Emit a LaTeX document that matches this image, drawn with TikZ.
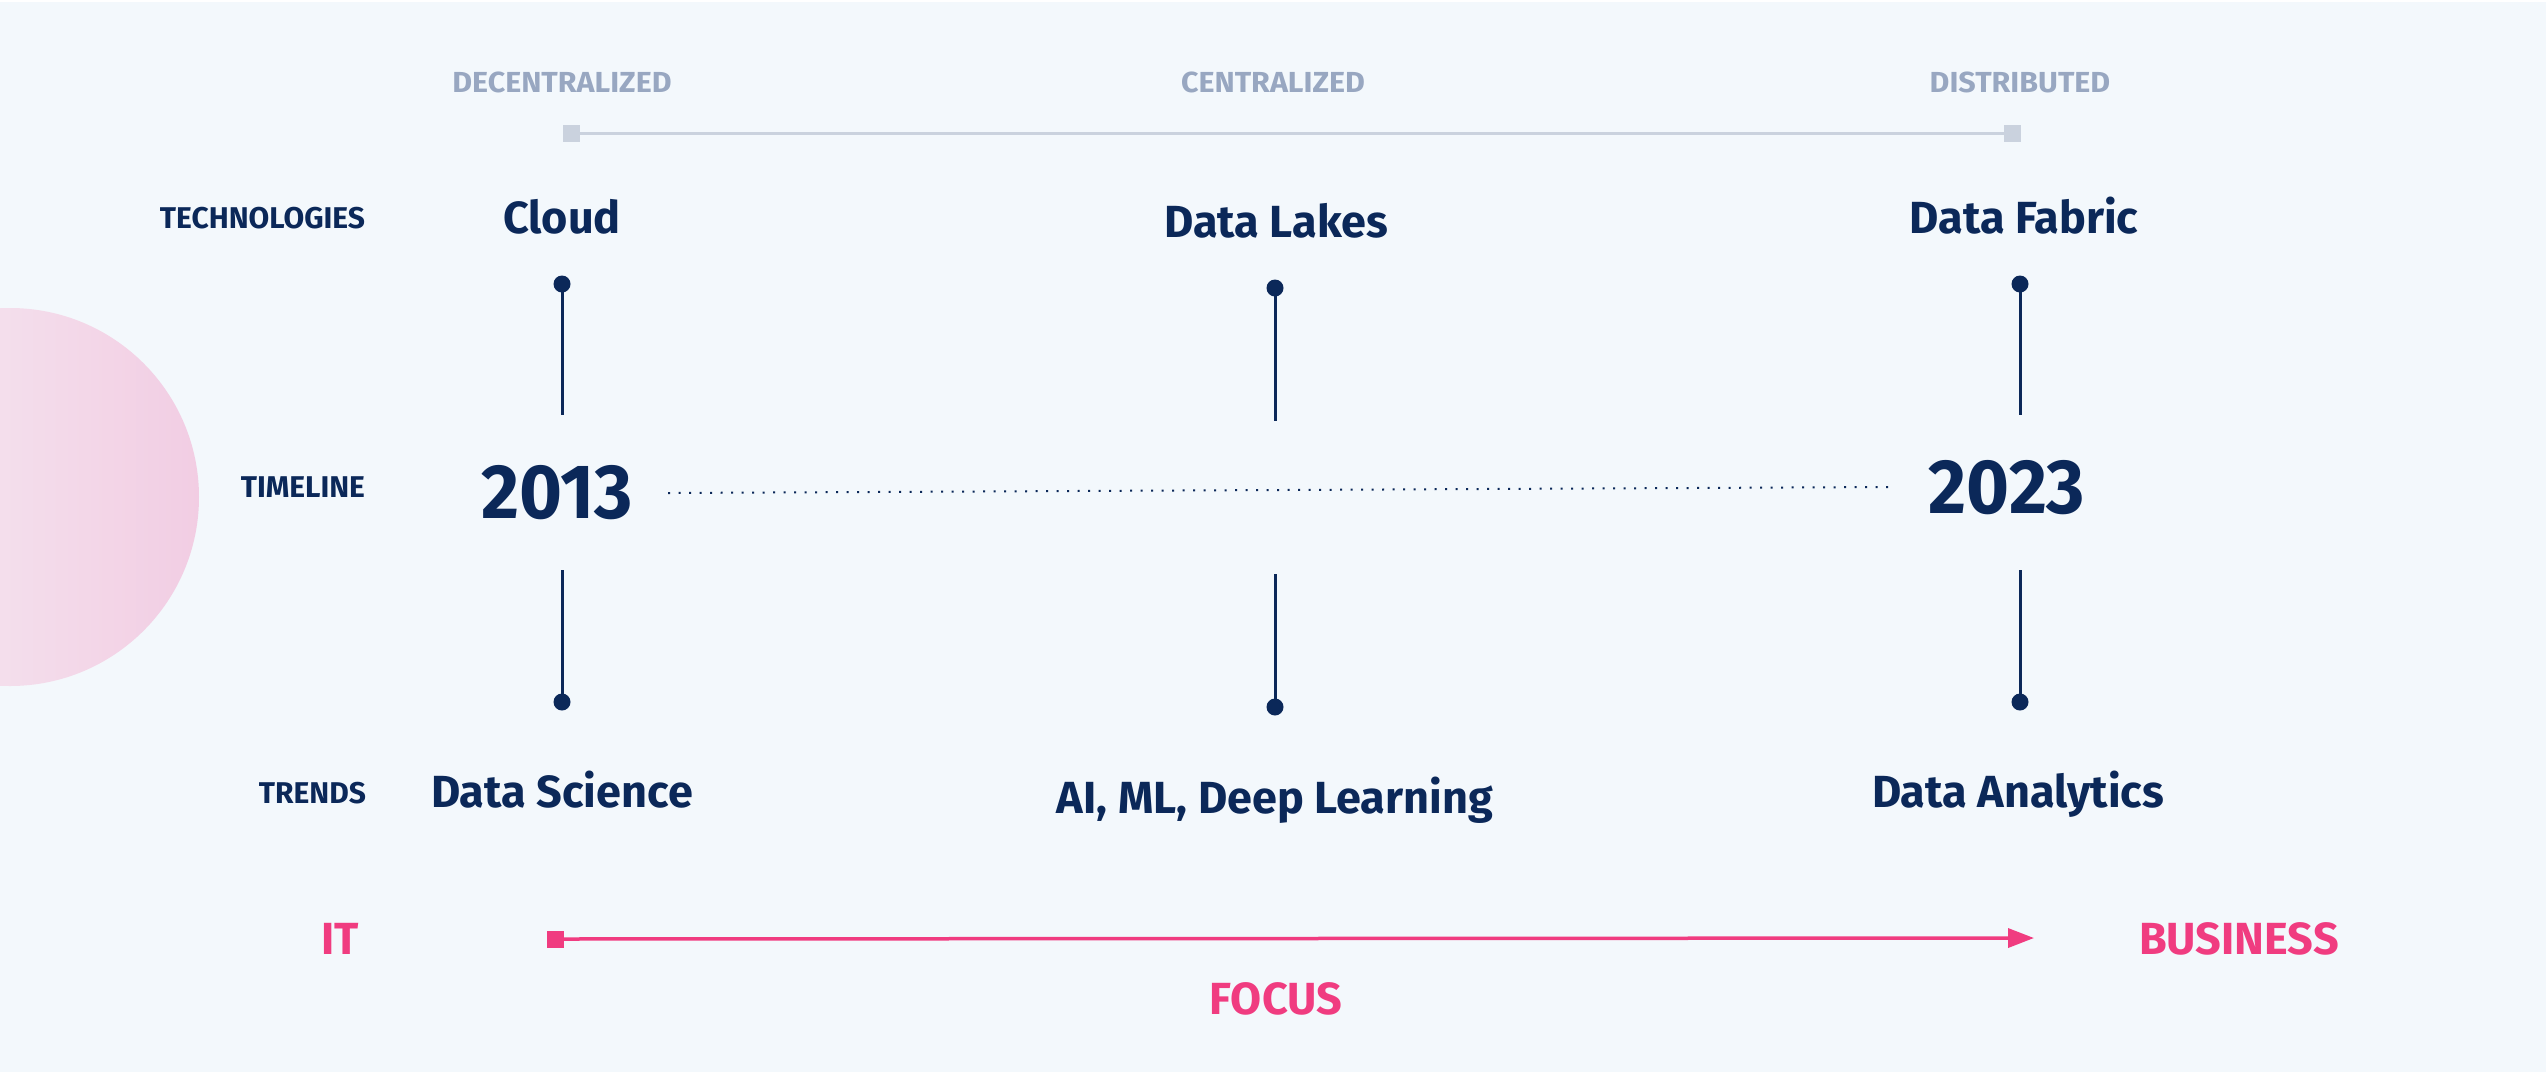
\documentclass[tikz,border=0pt]{standalone}
\usepackage{fontspec}
\setmainfont{Fira Sans}
\newfontfamily\yearfont{Fira Sans}[FakeStretch=0.955]
\newfontfamily\topfont{Fira Sans}[FakeStretch=1.05]
\usetikzlibrary{arrows.meta}
\definecolor{navy}{HTML}{0B2859}
\definecolor{bgc}{HTML}{F3F8FC}
\definecolor{graytxt}{HTML}{98A7C1}
\definecolor{grayln}{HTML}{CAD2DE}
\definecolor{pinkc}{HTML}{F03C80}
\definecolor{circL}{HTML}{F5EEF4}
\definecolor{circR}{HTML}{F2CDE3}
\begin{document}
\begin{tikzpicture}[x=1pt,y=-1pt,
  every node/.style={inner sep=0pt, outer sep=0pt},
  rowlabel/.style={anchor=base east, font=\bfseries\fontsize{30}{30}\selectfont, text=navy},
  toplabel/.style={anchor=base, font=\topfont\bfseries\fontsize{29}{29}\selectfont, text=graytxt},
  item/.style={anchor=base, font=\bfseries\fontsize{45}{45}\selectfont, text=navy},
  yearlabel/.style={anchor=base, font=\yearfont\bfseries\fontsize{77}{77}\selectfont, text=navy},
  pinklabel/.style={font=\bfseries\fontsize{45}{45}\selectfont, text=pinkc},
  pindot/.style={circle, fill=navy, minimum size=17pt},
  stem/.style={draw=navy, line width=3pt},
  graysq/.style={rectangle, fill=grayln, minimum size=17pt},
  pinksq/.style={rectangle, fill=pinkc, minimum size=17pt},
]
% background
\fill[white] (0,0) rectangle (2546,1072);
\fill[bgc] (0,2) rectangle (2546,1072);
\useasboundingbox (0,0) rectangle (2546,1072);
% pink circle
\begin{scope}
  \clip (0,0) rectangle (2546,1072);
  \shade[left color=circL, right color=circR] (10,497) circle (189);
\end{scope}

% top scale
\node[toplabel] (dec) at (562,92) {DECENTRALIZED};
\node[toplabel] (cen) at (1273,92) {CENTRALIZED};
\node[toplabel] (dis) at (2020,92) {DISTRIBUTED};
\node[graysq] (sqL) at (571,133) {};
\node[graysq] (sqR) at (2012,133) {};
\draw[grayln, line width=3pt] (sqL) -- (sqR);

% row labels
\node[rowlabel] (lt) at (365,228) {TECHNOLOGIES};
\node[rowlabel] (ll) at (365,497) {TIMELINE};
\node[rowlabel] (lr) at (366,803) {TRENDS};

% technologies
\node[item] (cloud) at (562,233) {Cloud};
\node[item] (lakes) at (1276,237) {Data Lakes};
\node[item] (fabric) at (2024,233) {Data Fabric};

% years
\node[yearlabel] (y13) at (557,518) {2013};
\node[yearlabel] (y23) at (2007,513) {2023};
\coordinate (dotA) at (668,493);
\coordinate (dotB) at (1891,487);
\draw[navy, line width=2pt, dash pattern=on 2pt off 8.5pt] (dotA) -- (dotB);

% trends
\node[item] (sci) at (562,807) {Data Science};
\node[item] (ai) at (1275,813) {AI, ML, Deep Learning};
\node[item] (ana) at (2018,807) {Data Analytics};

% stems
\node[pindot] (d1t) at (562,284) {};
\node[pindot] (d2t) at (1275,288) {};
\node[pindot] (d3t) at (2020,284) {};
\node[pindot] (d1b) at (562,702) {};
\node[pindot] (d2b) at (1275,707) {};
\node[pindot] (d3b) at (2020,702) {};
\coordinate (e1t) at (562,415);
\coordinate (e2t) at (1275,421);
\coordinate (e3t) at (2020,415);
\coordinate (e1b) at (562,570);
\coordinate (e2b) at (1275,574);
\coordinate (e3b) at (2020,570);
\draw[stem] (d1t.center) -- (e1t);
\draw[stem] (d2t.center) -- (e2t);
\draw[stem] (d3t.center) -- (e3t);
\draw[stem] (e1b) -- (d1b.center);
\draw[stem] (e2b) -- (d2b.center);
\draw[stem] (e3b) -- (d3b.center);

% focus
\node[pinklabel, anchor=base east] (it) at (359,954) {IT};
\node[pinklabel, anchor=base west] (bus) at (2139,954) {BUSINESS};
\node[pinklabel, anchor=base] (foc) at (1276,1014) {FOCUS};
\node[pinksq] (pL) at (555,939) {};
\coordinate (pR) at (2034,938);
\draw[pinkc, line width=3.5pt, -{Triangle[length=26pt,width=19pt]}] (pL.center) -- (pR);
\end{tikzpicture}
\end{document}
